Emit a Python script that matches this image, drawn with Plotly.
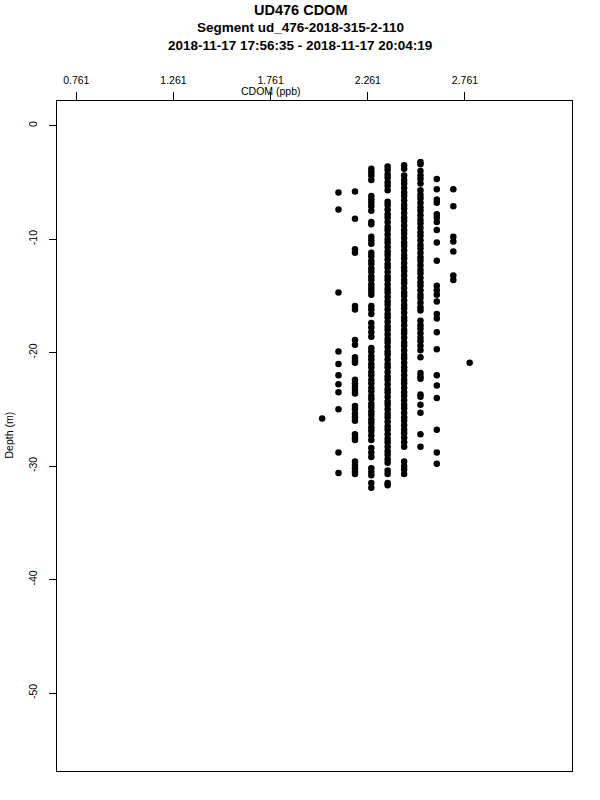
import plotly.graph_objects as go

# ---- data ----
cdom_levels = [2.026, 2.110, 2.195, 2.279, 2.363, 2.448, 2.532, 2.616, 2.701, 2.785]

depth_a = [-25.8]
depth_b = [-5.9, -7.4, -14.7, -19.9, -21.0, -22.0, -22.8, -23.5, -25.0, -28.8, -30.6]
depth_c = [-5.8, -8.2, -10.9, -11.2, -15.9, -16.2, -18.9, -19.3, -20.4, -20.7, -20.9,
           -22.4, -22.7, -23.0, -23.3, -23.6, -24.7, -25.0, -25.4, -25.7, -26.0,
           -27.2, -27.5, -27.7, -29.6, -29.9, -30.2, -30.5, -30.7]
depth_d = [-3.8, -4.1, -4.4, -4.8, -6.2, -6.5, -6.8, -7.1, -7.5, -8.5, -8.7,
           -9.8, -10.1, -10.4, -11.2, -11.5, -11.9, -12.2, -12.6, -12.9, -13.3, -13.6,
           -14.0, -14.3, -14.6, -14.9, -15.9, -16.2, -16.6, -17.4, -17.8, -18.2, -18.6,
           -19.6, -19.9, -20.3, -20.6, -21.0, -21.3, -21.7, -22.0, -22.4, -22.7, -23.1,
           -23.4, -23.8, -24.1, -24.5, -24.8, -25.2, -25.5, -25.9, -26.2, -26.6, -26.9,
           -27.3, -27.7, -28.4, -28.8, -29.2, -30.2, -30.5, -30.8, -31.5, -31.9]
depth_e = [-3.6, -3.9, -4.3, -4.6, -5.0, -5.3, -5.7,
           -6.7, -7.0, -7.4, -7.8, -8.1, -8.5, -8.9, -9.2, -9.6, -10.0, -10.3, -10.7,
           -11.1, -11.4, -11.8, -12.2, -12.5, -12.9, -13.3, -13.6, -14.0, -14.4, -14.7,
           -15.1, -15.5, -15.8, -16.2, -16.6, -16.9, -17.3, -17.7, -18.0, -18.4, -18.8,
           -19.1, -19.5, -19.9, -20.2, -20.6, -21.0, -21.3, -21.7, -22.1, -22.4, -22.8,
           -23.2, -23.5, -23.9, -24.3, -24.6, -25.0, -25.4, -25.7, -26.1, -26.5, -26.8,
           -27.2, -27.6, -27.9, -28.3, -28.7, -29.0, -29.4, -29.7, -30.4, -30.7, -31.5, -31.7]
depth_f = [-3.5, -3.8, -4.4, -4.8, -5.1, -5.5, -5.9, -6.2, -6.6, -7.0, -7.3, -7.7,
           -8.1, -8.4, -8.8, -9.2, -9.5, -9.9, -10.3, -10.6, -11.0, -11.4, -11.7, -12.1,
           -12.5, -12.8, -13.2, -13.6, -13.9, -14.3, -14.7, -15.0, -15.4, -15.8, -16.1,
           -16.5, -16.9, -17.2, -17.6, -18.0, -18.3, -18.7, -19.1, -19.4, -19.8, -20.2,
           -20.5, -20.9, -21.3, -21.6, -22.0, -22.4, -22.7, -23.1, -23.5, -23.8, -24.2,
           -24.6, -24.9, -25.3, -25.7, -26.0, -26.4, -26.8, -27.1, -27.5, -27.9, -28.3,
           -29.6, -30.0, -30.3, -30.7]
depth_g = [-3.2, -3.4, -4.0, -4.4, -4.7, -5.1,
           -5.7, -6.1, -6.4, -6.8, -7.2, -7.5, -7.9, -8.3, -8.6, -9.0, -9.4, -9.7, -10.1,
           -10.5, -10.8, -11.2, -11.6, -11.9, -12.3, -12.7, -13.0, -13.4, -13.8, -14.1,
           -14.5, -14.9, -15.2, -15.6, -16.0, -16.3,
           -17.2, -17.6, -17.9, -18.3, -18.7, -19.0, -19.4, -19.8, -20.4,
           -21.8, -22.1, -22.3, -23.7, -23.9, -24.6, -25.3, -27.2, -28.3]
depth_h = [-4.7, -5.6, -6.5, -6.8, -7.8, -8.1, -8.5, -9.2, -10.3, -11.9, -14.1, -14.5,
           -14.9, -15.5, -16.6, -17.0, -18.2, -19.7, -22.0, -22.9, -24.0, -26.8, -28.8, -29.8]
depth_i = [-5.6, -7.1, -9.8, -10.2, -11.1, -13.2, -13.6]
depth_j = [-20.9]

depth_columns = [depth_a, depth_b, depth_c, depth_d, depth_e,
                 depth_f, depth_g, depth_h, depth_i, depth_j]

x_tick_vals = [0.761, 1.261, 1.761, 2.261, 2.761]
x_tick_text = ["0.761", "1.261", "1.761", "2.261", "2.761"]
y_tick_vals = [0, -10, -20, -30, -40, -50]
y_tick_text = ["0", "-10", "-20", "-30", "-40", "-50"]

title_lines = ["UD476 CDOM",
               "Segment ud_476-2018-315-2-110",
               "2018-11-17 17:56:35 - 2018-11-17 20:04:19"]

# ---- build ----
xs, ys = [], []
for lvl, col in zip(cdom_levels, depth_columns):
    for d in col:
        xs.append(lvl)
        ys.append(d)

FONT = "Liberation Sans, Arial, Helvetica, sans-serif"

fig = go.Figure(go.Scatter(
    x=xs, y=ys, mode="markers",
    marker=dict(color="black", size=6.5, line=dict(width=0)),
    hoverinfo="skip", showlegend=False))

L, R, T, B = 57, 28, 101, 29
W, H = 600, 800
ph = H - T - B
pw = W - L - R

def py(pix):
    return (H - B - pix) / ph

def px(pix):
    return (pix - L) / pw

annotations = []
for txt, yp, fs in zip(title_lines, [10.5, 28, 45.5], [14.5, 13.5, 13.5]):
    annotations.append(dict(text="<b>%s</b>" % txt, x=px(300), y=py(yp),
                            xref="paper", yref="paper", showarrow=False,
                            xanchor="center", yanchor="middle",
                            font=dict(family=FONT, size=fs, color="black")))
annotations.append(dict(text="CDOM (ppb)", x=1.761, y=py(91), xref="x", yref="paper",
                        showarrow=False, xanchor="center", yanchor="middle",
                        font=dict(family=FONT, size=10.5, color="black")))
annotations.append(dict(text="Depth (m)", x=px(8.5), y=py(435),
                        xref="paper", yref="paper", textangle=-90, showarrow=False,
                        xanchor="center", yanchor="middle",
                        font=dict(family=FONT, size=10.5, color="black")))

fig.update_layout(
    width=W, height=H,
    margin=dict(l=L, r=R, t=T, b=B, pad=0),
    paper_bgcolor="white", plot_bgcolor="white",
    font=dict(family=FONT, size=10.5, color="black"),
    annotations=annotations,
    xaxis=dict(range=[0.6616, 3.3117], side="top", tickmode="array",
               tickvals=x_tick_vals, ticktext=x_tick_text,
               ticks="outside", ticklen=8, tickwidth=1, tickcolor="black",
               showline=True, linecolor="black", linewidth=1, mirror=True,
               showgrid=False, zeroline=False, ticklabelstandoff=4,
               tickfont=dict(family=FONT, size=10.5, color="black")),
    yaxis=dict(range=[-56.87, 2.17], tickmode="array",
               tickvals=y_tick_vals, ticktext=y_tick_text, tickangle=-90,
               ticks="outside", ticklen=7, tickwidth=1, tickcolor="black",
               showline=True, linecolor="black", linewidth=1, mirror=True,
               showgrid=False, zeroline=False, ticklabelstandoff=8,
               tickfont=dict(family=FONT, size=10.5, color="black")),
)

fig.write_html("out.html", config={"displayModeBar": False},
               post_script="document.body.style.margin='0px';document.body.style.padding='0px';")
